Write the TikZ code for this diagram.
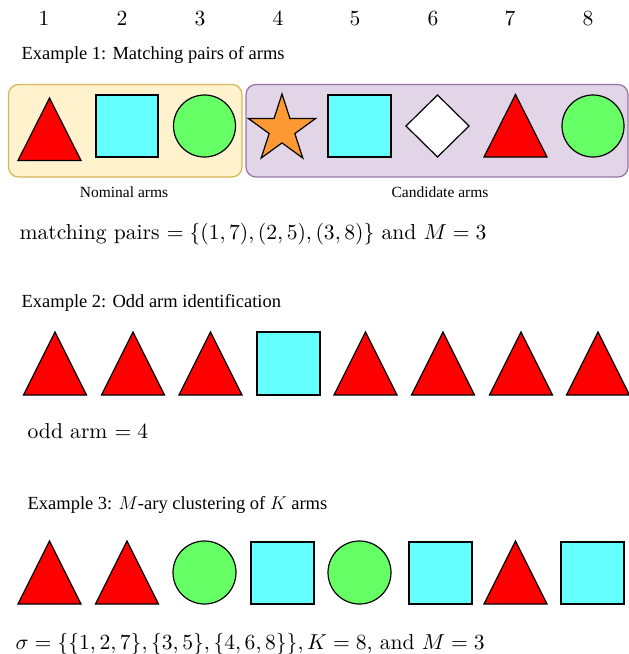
\RequirePackage{fix-cm}
\documentclass[tikz,border=0pt]{standalone}
\usepackage[no-math]{fontspec}
\usepackage{graphicx}
\setmainfont{Liberation Serif}
\newfontfamily\cmrm{Latin Modern Roman}
\usetikzlibrary{shapes.geometric}
\definecolor{armred}{HTML}{FF0000}
\definecolor{armcyan}{HTML}{66FFFF}
\definecolor{armgreen}{HTML}{66FF66}
\definecolor{armorange}{HTML}{FF9933}
\definecolor{nomfill}{HTML}{FFF2CC}
\definecolor{nomdraw}{HTML}{D6B656}
\definecolor{candfill}{HTML}{E1D5E7}
\definecolor{canddraw}{HTML}{9673A6}
\newcommand\armtri[2]{\draw[redarm] (#1-31.5,#2+63) -- (#1,#2) -- (#1+31.5,#2+63) -- cycle;}
\newcommand\armtrib[2]{\draw[redarm] (#1-31.5,#2+62.5) -- (#1,#2) -- (#1+31.5,#2+62.5) -- cycle;}
\newcommand\bigmath[1]{\scalebox{2.16}{\fontsize{10}{12}\selectfont\cmrm #1}}
\begin{document}
\begin{tikzpicture}[x=1pt,y=-1pt,line width=1.2pt,line join=miter,
  lbl/.style={inner sep=0pt,anchor=base west,font=\fontsize{18.5}{22}\selectfont},
  sublbl/.style={inner sep=0pt,anchor=base,font=\fontsize{15.5}{18}\selectfont},
  mth/.style={inner sep=0pt,anchor=base west},
  num/.style={inner sep=0pt,anchor=base},
  redarm/.style={draw=black,fill=armred},
  cyanarm/.style={draw=black,fill=armcyan},
  greenarm/.style={draw=black,fill=armgreen},
  nombox/.style={draw=nomdraw,fill=nomfill,rounded corners=10pt},
  candbox/.style={draw=canddraw,fill=candfill,rounded corners=10pt}]
\useasboundingbox (0,0) rectangle (629,654);

% column numbers
\foreach \i/\x in {1/44,2/122,3/200,4/278,5/355,6/433,7/510,8/588}
  \node[num] (n\i) at (\x,25) {\bigmath{$\i$}};

% Example 1
\node[lbl] (ex1) at (21,59) {Example 1: Matching pairs of arms};
\draw[nombox] (8.5,84.5) rectangle (242,177);
\draw[candbox] (246,84.5) rectangle (628,177);
\armtrib{49.5}{98}
\draw[cyanarm] (96,95) rectangle (158,157);
\draw[greenarm] (204.5,126) circle (31);
\draw[draw=black,fill=armorange,shift={(282,129.4)}]
  (-90:35.4) -- (-54:13.5) -- (-18:35.4) -- (18:13.5) -- (54:35.4) -- (90:13.5)
  -- (126:35.4) -- (162:13.5) -- (-162:35.4) -- (-126:13.5) -- cycle;
\draw[cyanarm] (328,95) rectangle (391,157);
\draw[draw=black,fill=white] (406,126) -- (437.5,95) -- (469,126) -- (437.5,157) -- cycle;
\armtrib{515.5}{94.5}
\draw[greenarm] (593,126) circle (31);
\node[sublbl] (nom) at (124,197) {Nominal arms};
\node[sublbl] (cand) at (440,197) {Candidate arms};
\node[mth] (match) at (19,239) {\bigmath{matching pairs $=\{(1,7),(2,5),(3,8)\}$ and $M=3$}};

% Example 2
\node[lbl] (ex2) at (21,307) {Example 2: Odd arm identification};
\foreach \x in {55,133,210.5,365.5,443,521,598}
  \armtri{\x}{332}
\draw[cyanarm] (257,332) rectangle (320,395);
\node[mth] (odd) at (27,438) {\bigmath{odd arm $=4$}};

% Example 3
\node[lbl] (ex3) at (27,509) {Example 3: $M$-ary clustering of $K$ arms};
\armtri{49.5}{541}
\armtri{127}{541}
\draw[greenarm] (204.5,572.5) circle (31.5);
\draw[cyanarm] (251,542) rectangle (314,604);
\draw[greenarm] (359.5,572.5) circle (31.5);
\draw[cyanarm] (409,542) rectangle (472,604);
\armtri{515.5}{541}
\draw[cyanarm] (561,542) rectangle (624,604);
\node[mth] (sigma) at (15,649) {\bigmath{$\sigma=\{\{1,2,7\},\{3,5\},\{4,6,8\}\},K=8,$ and $M=3$}};
\end{tikzpicture}
\end{document}
